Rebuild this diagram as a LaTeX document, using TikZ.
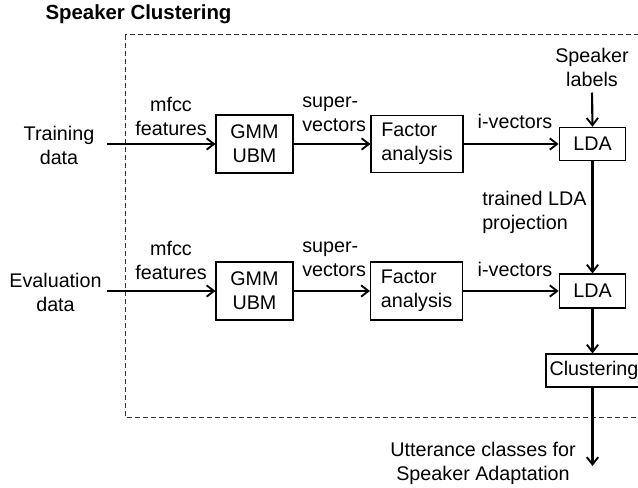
\documentclass[tikz,border=0pt]{standalone}
\usepackage{fontspec}
\setmainfont{Liberation Sans}
\usetikzlibrary{arrows.meta}
\begin{document}
\begin{tikzpicture}[x=0.75pt,y=-0.75pt,
  every node/.style={font=\fontsize{14.8}{18}\selectfont, inner sep=0pt},
  blk/.style={draw, line width=0.8pt, inner sep=0pt, align=center},
  lbl/.style={align=center},
  flow/.style={line width=1.6pt, -{Straight Barb[length=5.5pt,width=8.5pt,line width=1.4pt]}},
  frame/.style={line width=0.75pt, dash pattern=on 3.5pt off 2.5pt, draw=black!80}
]
\useasboundingbox (0,0) rectangle (638,488);
\clip (0,0) rectangle (638,488);

% title
\node[font=\fontsize{15.3}{18}\bfseries\selectfont] (title) at (138.5,14) {Speaker Clustering};

% dashed frame around the clustering system
\draw[frame] (125,35) rectangle (720,417);

% processing blocks
\node[blk, minimum width=57.75pt, minimum height=43.5pt] (gmm1) at (254.5,144) {GMM\\UBM};
\node[blk, minimum width=69pt, minimum height=43pt, align=left] (fa1) at (417,144) {Factor\\analysis};
\node[blk, minimum width=50pt, minimum height=25pt] (lda1) at (592.5,144) {LDA};

\node[blk, minimum width=57.75pt, minimum height=43.5pt] (gmm2) at (254.5,291) {GMM\\UBM};
\node[blk, minimum width=69pt, minimum height=43.5pt, align=left] (fa2) at (416.5,291) {Factor\\analysis};
\node[blk, minimum width=50pt, minimum height=25.5pt] (lda2) at (592.5,291) {LDA};

\node[blk, minimum width=72pt, minimum height=24.75pt] (clust) at (594,370.5) {Clustering};

% inputs and outputs
\node[lbl] (train) at (59,145) {Training\\data};
\node[lbl] (eval) at (55.5,292) {Evaluation\\data};
\node[lbl] (spk) at (592,67) {Speaker\\labels};
\node[lbl] (utt) at (483,463.5) {Utterance classes for\\Speaker Adaptation};

\coordinate (s1) at (107,144);
\coordinate (s2) at (107,291);
\coordinate (out) at (592.5,466);

% connector labels
\node[lbl] (mf1) at (171,116.5) {mfcc\\features};
\node[align=left, anchor=west] (sv1) at (302,114) {super-\\vectors};
\node (iv1) at (515,121) {i-vectors};
\node[align=left, anchor=west] (tl) at (482,212) {trained LDA\\projection};

\node[lbl] (mf2) at (171,260) {mfcc\\features};
\node[align=left, anchor=west] (sv2) at (302,259.5) {super-\\vectors};
\node (iv2) at (515,269) {i-vectors};

% flow arrows
\draw[flow] (s1) -- (gmm1.west);
\draw[flow] (gmm1.east) -- (fa1.west);
\draw[flow] (fa1.east) -- (lda1.west);
\draw[flow] (spk.south) ++(0,6) coordinate (spktop) -- (lda1.north);

\draw[flow] (s2) -- (gmm2.west);
\draw[flow] (gmm2.east) -- (fa2.west);
\draw[flow] (fa2.east) -- (lda2.west);

\draw[flow] (lda1.south) -- (lda2.north);
\draw[flow] (lda2.south) -- (lda2.south |- clust.north);
\draw[flow] (lda2.south |- clust.south) -- (out);
\end{tikzpicture}
\end{document}
